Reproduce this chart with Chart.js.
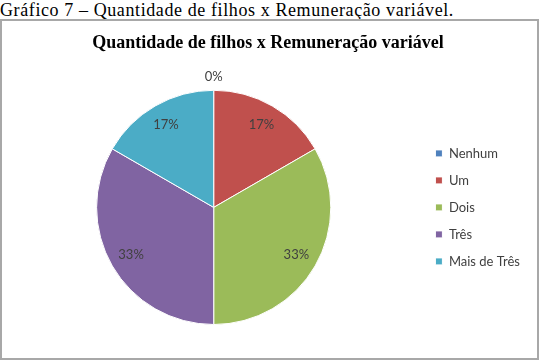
<!DOCTYPE html>
<html lang="pt">
<head>
  <meta charset="UTF-8">
  <title>Quantidade de filhos x Remuneração variável</title>
  <script src="https://cdn.jsdelivr.net/npm/chart.js"></script>
  <style>
    body { margin: 0; width: 549px; height: 360px; position: relative; background: #fff; overflow: hidden; }
    #legenda { position: absolute; left: 0; top: 0; font: 18px "Liberation Serif", "Times New Roman", serif; letter-spacing: 0.6px; line-height: 20px; color: #000; white-space: nowrap; }
    #caixa { position: absolute; left: 0; top: 19px; width: 535px; height: 337px; border: 2px solid #a8a8a8; }
    #chart { position: absolute; left: 0; top: 0; }
  </style>
</head>
<body>
<div id="legenda">Gráfico 7 – Quantidade de filhos x Remuneração variável.</div>
<div id="caixa"></div>
<canvas id="chart" width="549" height="360"></canvas>

<script>
    const categorias = ['Nenhum', 'Um', 'Dois', 'Três', 'Mais de Três'];
    const valores = [0, 1, 2, 2, 1];
    const cores = ['#4F81BD', '#C0504D', '#9BBB59', '#8064A2', '#4BACC6'];

    // rótulos de percentagem como no Excel
    const rotulos = {
        id: 'rotulos',
        afterDatasetsDraw(chart) {
            const ctx = chart.ctx;
            const total = valores.reduce((a, b) => a + b, 0);
            const meta = chart.getDatasetMeta(0);
            ctx.save();
            ctx.font = '13px Lato';
            ctx.fillStyle = '#404040';
            ctx.textAlign = 'center';
            ctx.textBaseline = 'middle';
            meta.data.forEach((arc, i) => {
                const p = arc.getProps(['x', 'y', 'startAngle', 'endAngle', 'outerRadius'], true);
                const meio = (p.startAngle + p.endAngle) / 2;
                const r = valores[i] === 0 ? p.outerRadius + 13 : p.outerRadius * 0.815;
                const txt = Math.round(valores[i] / total * 100) + '%';
                ctx.fillText(txt, p.x + Math.cos(meio) * r, p.y + Math.sin(meio) * r);
            });
            ctx.restore();
        }
    };

    new Chart(document.getElementById('chart'), {
        type: 'pie',
        data: {
            labels: categorias,
            datasets: [{
                data: valores,
                backgroundColor: cores,
                borderColor: '#ffffff',
                borderWidth: 1
            }]
        },
        options: {
            responsive: false,
            animation: false,
            layout: {
                padding: { left: 6, right: 19, top: 0, bottom: 35 }
            },
            plugins: {
                title: {
                    display: true,
                    text: 'Quantidade de filhos x Remuneração variável',
                    color: '#000',
                    font: { family: '"Liberation Serif", "Times New Roman", serif', size: 18, weight: 'bold' },
                    padding: { top: 32.6, bottom: 35.6 }
                },
                legend: {
                    position: 'right',
                    fullSize: false,
                    labels: {
                        boxWidth: 7,
                        boxHeight: 7,
                        padding: 14,
                        color: '#404040',
                        font: { family: 'Lato', size: 13 }
                    }
                },
                tooltip: { enabled: false }
            }
        },
        plugins: [rotulos]
    });
</script>
</body>
</html>
